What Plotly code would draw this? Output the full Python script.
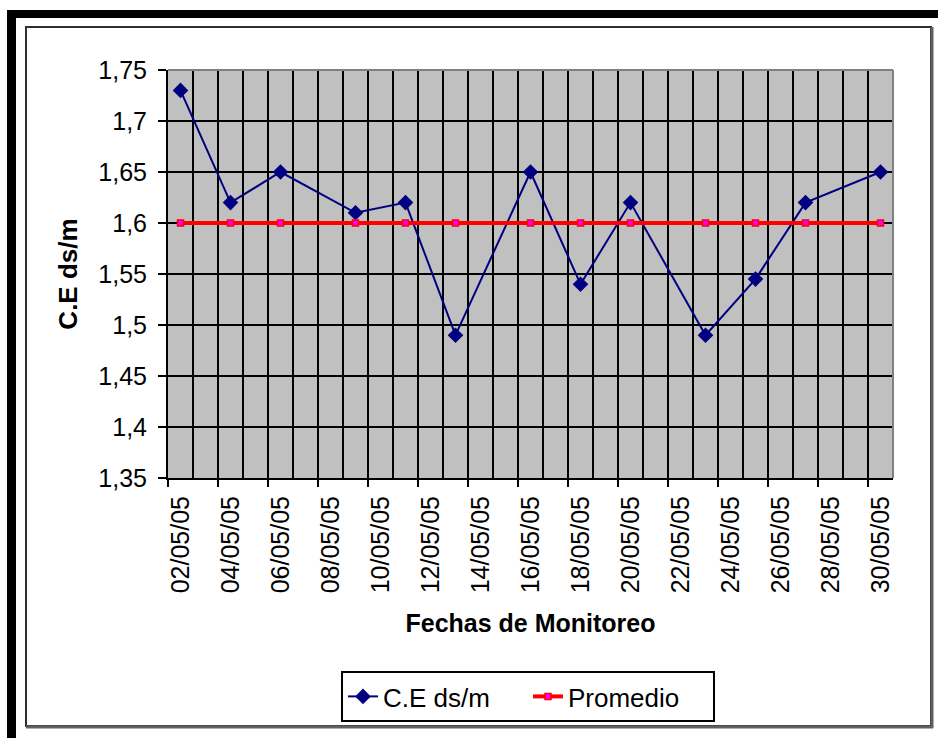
import pandas as pd
import plotly.graph_objects as go

# Monitoring dates and measured electrical conductivity (dS/m)
fechas = ["2005-05-02", "2005-05-04", "2005-05-06", "2005-05-09", "2005-05-11",
          "2005-05-13", "2005-05-16", "2005-05-18", "2005-05-20", "2005-05-23",
          "2005-05-25", "2005-05-27", "2005-05-30"]
ce = [1.73, 1.62, 1.65, 1.61, 1.62, 1.49, 1.65, 1.54, 1.62, 1.49, 1.545, 1.62, 1.65]
promedio = [1.6, 1.6, 1.6, 1.6, 1.6, 1.6, 1.6, 1.6, 1.6, 1.6, 1.6, 1.6, 1.6]

# Axis labels every two days
etiquetas = ["02/05/05", "04/05/05", "06/05/05", "08/05/05", "10/05/05",
             "12/05/05", "14/05/05", "16/05/05", "18/05/05", "20/05/05",
             "22/05/05", "24/05/05", "26/05/05", "28/05/05", "30/05/05"]
rango_x = ["2005-05-02", "2005-05-31"]
rango_y = [1.35, 1.75]

# Points sit in the middle of each day slot
dias = pd.to_datetime(fechas)
x_pts = dias + pd.Timedelta(hours=12)
dias_etq = pd.to_datetime(etiquetas, format="%d/%m/%y")
x_etq = dias_etq + pd.Timedelta(hours=12)

W, H = 938, 738
L, R, T, B = 168, 45, 70, 260
PW, PH = W - L - R, H - T - B


def px(x):
    return (x - L) / PW


def py(y):
    return (H - B - y) / PH


FONT = "Liberation Sans, Arial, sans-serif"

fig = go.Figure()
fig.add_trace(go.Scatter(
    x=x_pts, y=ce, name="C.E ds/m", mode="lines+markers",
    line=dict(color="#000080", width=2),
    marker=dict(symbol="diamond", size=12, color="#000080"),
))
fig.add_trace(go.Scatter(
    x=x_pts, y=promedio, name="Promedio", mode="lines+markers",
    line=dict(color="#FF0000", width=4),
    marker=dict(symbol="square", size=6, color="#FF00FF",
                line=dict(color="#FF0000", width=1.5)),
))
# carrier for the secondary axis that draws the two-day tick marks
fig.add_trace(go.Scatter(
    x=x_pts, y=ce, xaxis="x2", mode="markers", showlegend=False,
    hoverinfo="skip", marker=dict(opacity=0),
))

shapes = [
    # thick black frame at top and left
    dict(type="rect", xref="paper", yref="paper", x0=px(7), x1=px(938),
         y0=py(18), y1=py(10), fillcolor="black", line=dict(width=0)),
    dict(type="rect", xref="paper", yref="paper", x0=px(7), x1=px(16),
         y0=py(738), y1=py(10), fillcolor="black", line=dict(width=0)),
    # chart area border
    dict(type="rect", xref="paper", yref="paper", x0=px(26), x1=px(931),
         y0=py(726), y1=py(27), line=dict(color="#303030", width=2)),
    dict(type="line", xref="paper", yref="paper", x0=px(932), x1=px(932),
         y0=py(728), y1=py(27), line=dict(color="#606060", width=3)),
    dict(type="line", xref="paper", yref="paper", x0=px(26), x1=px(933),
         y0=py(727), y1=py(727), line=dict(color="#606060", width=3)),
    # plot area border (top and right)
    dict(type="line", xref="paper", yref="paper", x0=0, x1=1, y0=1, y1=1,
         line=dict(color="#808080", width=2), layer="above"),
    dict(type="line", xref="paper", yref="paper", x0=1, x1=1, y0=0, y1=1,
         line=dict(color="#808080", width=2), layer="above"),
]

fig.update_layout(
    width=W, height=H,
    margin=dict(l=L, r=R, t=T, b=B, pad=0),
    paper_bgcolor="white",
    plot_bgcolor="#C0C0C0",
    separators=", ",
    font=dict(family=FONT, color="black"),
    shapes=shapes,
    showlegend=True,
    legend=dict(
        orientation="h", x=px(528), xanchor="center", y=py(671), yanchor="top",
        font=dict(family=FONT, size=26, color="black"),
        bordercolor="black", borderwidth=2, bgcolor="white",
        entrywidth=140, entrywidthmode="pixels",
    ),
    xaxis=dict(
        type="date", range=rango_x,
        tickvals=x_etq, ticktext=etiquetas, tickangle=-90,
        tickfont=dict(family=FONT, size=25),
        ticklabelstandoff=6,
        ticks="", showgrid=False, zeroline=False,
        showline=True, linecolor="black", linewidth=2,
        minor=dict(tick0="2005-05-02", dtick=86400000, showgrid=True,
                   gridcolor="black", gridwidth=2, ticks=""),
        title=dict(text="Fechas de Monitoreo", standoff=22,
                   font=dict(family=FONT, size=25, weight="bold")),
    ),
    xaxis2=dict(
        type="date", range=rango_x, overlaying="x", anchor="y", side="bottom",
        tickvals=dias_etq, ticks="outside", ticklen=8, tickwidth=2,
        tickcolor="black", showticklabels=False, showgrid=False,
        zeroline=False, showline=False,
    ),
    yaxis=dict(
        range=rango_y, tick0=1.35, dtick=0.05,
        ticks="outside", ticklen=8, tickwidth=2, tickcolor="black",
        tickfont=dict(family=FONT, size=25),
        ticklabelstandoff=6,
        showgrid=True, gridcolor="black", gridwidth=2, zeroline=False,
        showline=True, linecolor="black", linewidth=2,
        title=dict(text="C.E ds/m", standoff=13,
                   font=dict(family=FONT, size=26, weight="bold")),
    ),
)

fig.write_html("out.html")
